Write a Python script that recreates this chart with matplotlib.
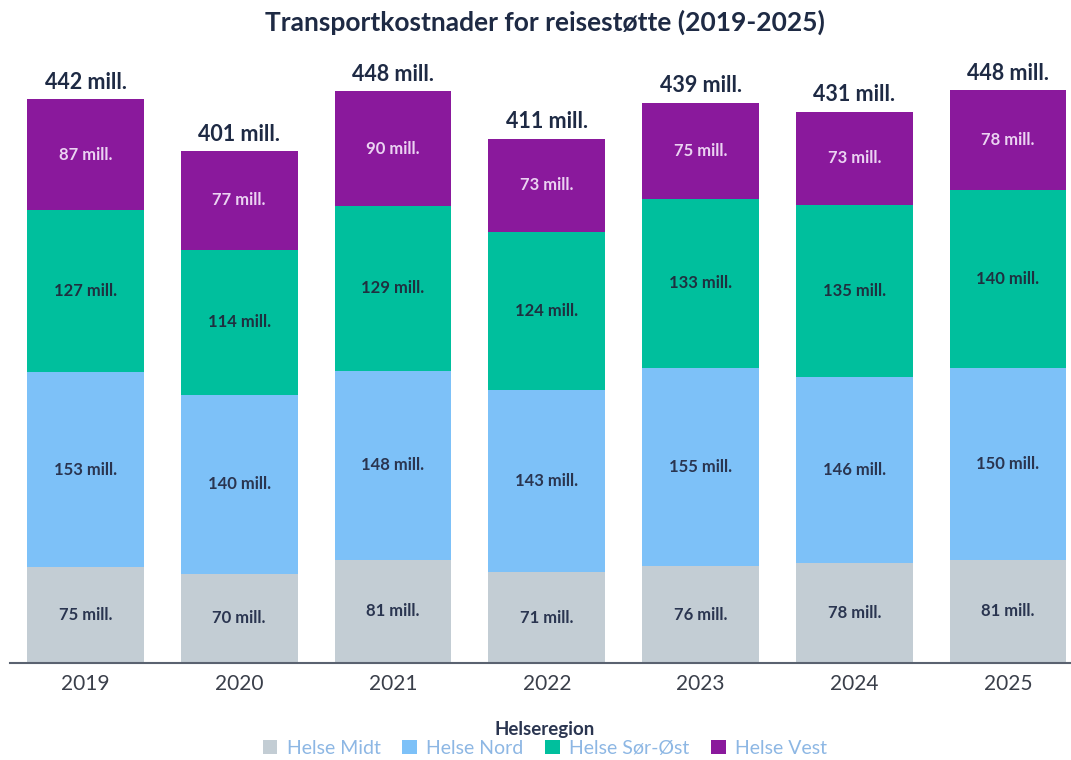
import matplotlib
matplotlib.use("Agg")
import matplotlib.pyplot as plt
from matplotlib.patches import Patch
import numpy as np

plt.rcParams['font.family'] = ['Lato', 'DejaVu Sans']

years = ["2019", "2020", "2021", "2022", "2023", "2024", "2025"]
regions = ["Helse Midt", "Helse Nord", "Helse Sør-Øst", "Helse Vest"]
helse_midt = [75, 70, 81, 71, 76, 78, 81]
helse_nord = [153, 140, 148, 143, 155, 146, 150]
helse_sor_ost = [127, 114, 129, 124, 133, 135, 140]
helse_vest = [87, 77, 90, 73, 75, 73, 78]
totals = [442, 401, 448, 411, 439, 431, 448]

series = [helse_midt, helse_nord, helse_sor_ost, helse_vest]
colors = ["#C3CDD4", "#7DC1F8", "#00BF9D", "#8A199C"]
label_colors = ["#2A3550", "#2A3550", "#1F3040", "#EBD3F2"]
dark = "#1E2A44"

W, H = 1071, 760
fig = plt.figure(figsize=(W / 100, H / 100), dpi=100)
base_px = 663
ppu = (663 - 99) / 442.0
ymax = 480
top_px = base_px - ymax * ppu
ax = fig.add_axes([10 / W, 1 - base_px / H, 1 - 10 / W, (base_px - top_px) / H])

x = np.arange(len(years))
bottom = np.zeros(len(years))
for vals, col, lc in zip(series, colors, label_colors):
    vals = np.array(vals, dtype=float)
    ax.bar(x, vals, bottom=bottom, width=0.76, color=col, edgecolor='none')
    for xi, b, v in zip(x, bottom, vals):
        ax.text(xi, b + v / 2, f"{int(v)} mill.", ha='center', va='center',
                fontsize=12, fontweight='bold', color=lc)
    bottom += vals

for xi, t, b in zip(x, totals, bottom):
    ax.text(xi, b + 5, f"{t} mill.", ha='center', va='bottom',
            fontsize=15.5, fontweight='bold', color=dark)

ax.set_xlim((10 - 85.5) / 153.75, (1071 - 85.5) / 153.75)
ax.set_ylim(0, ymax)
ax.set_xticks(x)
ax.set_xticklabels(years, fontsize=15, color="#3A3F4A")
ax.tick_params(axis='x', length=0, pad=8)
ax.set_yticks([])
for s in ['top', 'right', 'left']:
    ax.spines[s].set_visible(False)
ax.spines['bottom'].set_color("#5A6270")
ax.spines['bottom'].set_linewidth(1.5)

fig.text(545 / W, 1 - 22 / H, "Transportkostnader for reisestøtte (2019-2025)",
         ha='center', va='center', fontsize=19, fontweight='bold', color=dark)

handles = [Patch(facecolor=c, edgecolor='none') for c in colors]
leg = fig.legend(handles, regions, loc='center', bbox_to_anchor=(545 / W, 1 - 739 / H),
                 ncol=4, frameon=False, fontsize=14, title="Helseregion",
                 title_fontproperties={'weight': 'bold', 'size': 13.5},
                 handlelength=0.75, handleheight=0.75, handletextpad=0.5,
                 columnspacing=1.1, borderpad=0, labelspacing=0.1)
leg.get_title().set_color("#2A3550")
for t in leg.get_texts():
    t.set_color("#8DB7E4")

fig.savefig("out.png", dpi=100)
